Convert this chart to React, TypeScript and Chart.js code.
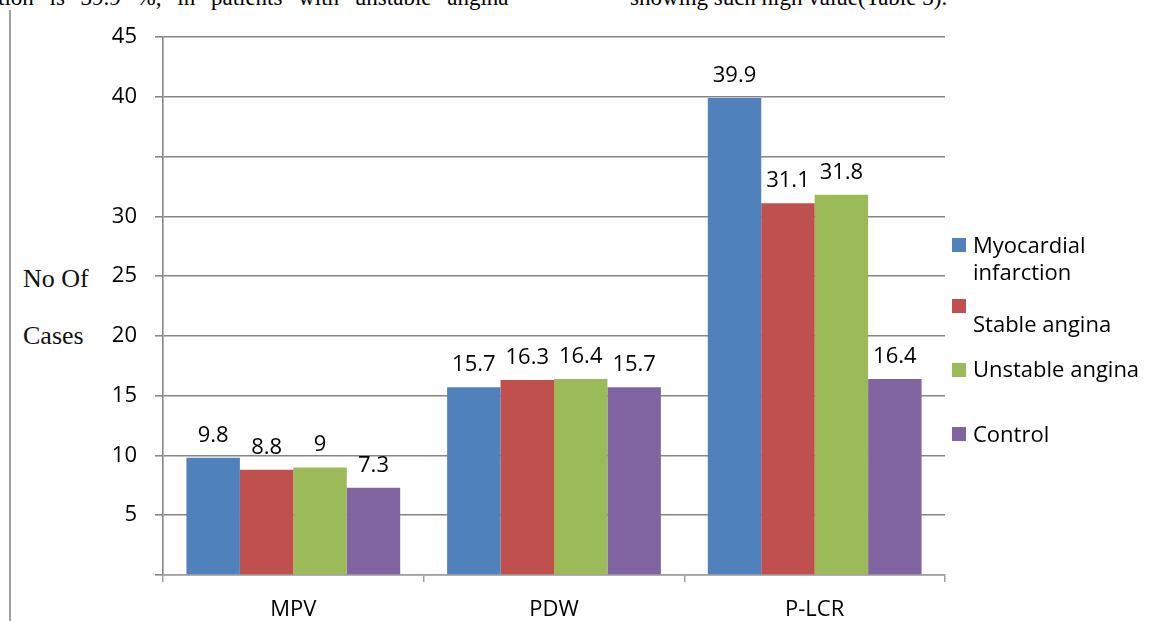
import React, { useEffect, useRef } from "react";
import { Chart, registerables } from "chart.js";

Chart.register(...registerables);

const categories = ["MPV", "PDW", "P-LCR"];
const seriesNames = ["Myocardial infarction", "Stable angina", "Unstable angina", "Control"];
const myocardialInfarction = [9.8, 15.7, 39.9];
const stableAngina = [8.8, 16.3, 31.1];
const unstableAngina = [9, 16.4, 31.8];
const control = [7.3, 15.7, 16.4];
const seriesColors = ["#4F81BD", "#C0504D", "#9BBB59", "#8064A2"];
const yMin = 0;
const yMax = 45;
const yStep = 5;
const hiddenTickLabels = [0, 35];
const legendLines = [["Myocardial", "infarction"], ["", "Stable angina"], ["Unstable angina"], ["Control"]];
const topTextLeft = "tion is 39.9 %, in patients with unstable angina";
const topTextRight = "showing such high value(Table 3).";
const axisTitleLines = ["No Of", "Cases"];

const FONT = "'Open Sans', sans-serif";

const legendPlugin = {
  id: "customLegend",
  afterDraw(chart: any) {
    const ctx = chart.ctx;
    const squareTops = [238, 299, 363, 427];
    const lineOffsets = [[15, 42], [15, 33], [14], [15]];
    ctx.save();
    ctx.font = `22px ${FONT}`;
    ctx.textBaseline = "alphabetic";
    ctx.textAlign = "left";
    chart.data.datasets.forEach((ds: any, i: number) => {
      const top = squareTops[i];
      ctx.fillStyle = ds.backgroundColor;
      ctx.fillRect(952, top, 14, 14);
      ctx.fillStyle = "#000";
      legendLines[i].forEach((line, j) => {
        if (line) ctx.fillText(line, 973, top + lineOffsets[i][j]);
      });
    });
    ctx.restore();
  },
};

const valueLabelPlugin = {
  id: "valueLabels",
  afterDatasetsDraw(chart: any) {
    const ctx = chart.ctx;
    ctx.save();
    ctx.font = `22px ${FONT}`;
    ctx.fillStyle = "#000";
    ctx.textAlign = "center";
    ctx.textBaseline = "alphabetic";
    chart.data.datasets.forEach((ds: any, i: number) => {
      const meta = chart.getDatasetMeta(i);
      meta.data.forEach((bar: any, j: number) => {
        ctx.fillText(String(ds.data[j]), bar.x, bar.y - 16);
      });
    });
    ctx.restore();
  },
};

export default function App() {
  const canvasRef = useRef<HTMLCanvasElement | null>(null);

  useEffect(() => {
    if (!canvasRef.current) return;
    const seriesValues = [myocardialInfarction, stableAngina, unstableAngina, control];
    const chart = new Chart(canvasRef.current, {
      type: "bar",
      data: {
        labels: categories,
        datasets: seriesNames.map((name, i) => ({
          label: name,
          data: seriesValues[i],
          backgroundColor: seriesColors[i],
          borderWidth: 0,
          categoryPercentage: 0.82,
          barPercentage: 1.0,
        })),
      },
      options: {
        animation: false,
        responsive: true,
        maintainAspectRatio: false,
        layout: { padding: { top: 37, right: 218, bottom: 0, left: 0 } },
        plugins: {
          legend: { display: false },
          tooltip: { enabled: false },
        },
        scales: {
          x: {
            offset: true,
            grid: {
              display: true,
              drawOnChartArea: false,
              drawTicks: true,
              tickLength: 7,
              offset: true,
              color: "#a0a0a0",
              lineWidth: 1.5,
            },
            border: { display: true, color: "#a0a0a0", width: 1.5 },
            ticks: {
              font: { family: FONT, size: 22 },
              color: "#000",
              padding: 15,
              maxRotation: 0,
            },
            afterFit(scale: any) {
              scale.height = 46;
            },
          },
          y: {
            min: yMin,
            max: yMax,
            grid: {
              color: "#868686",
              lineWidth: 1.6,
              tickLength: 8,
              drawTicks: true,
            },
            border: { display: true, color: "#868686", width: 1.6 },
            ticks: {
              stepSize: yStep,
              font: { family: FONT, size: 22 },
              color: "#000",
              padding: 18,
              callback: (v: any) => (hiddenTickLabels.includes(Number(v)) ? "" : String(v)),
            },
            afterFit(scale: any) {
              scale.width = 163;
            },
          },
        },
      },
      plugins: [valueLabelPlugin, legendPlugin],
    });
    return () => chart.destroy();
  }, []);

  const serif = "'Liberation Serif', 'Times New Roman', serif";

  return (
    <div style={{ position: "fixed", left: 0, top: 0, width: 1163, height: 621, background: "#fff", overflow: "hidden" }}>
      <div
        style={{
          position: "absolute",
          left: -2,
          top: -14,
          fontFamily: serif,
          fontSize: 23,
          lineHeight: "23px",
          wordSpacing: 10,
          whiteSpace: "nowrap",
          color: "#000",
        }}
      >
        {topTextLeft}
      </div>
      <div
        style={{
          position: "absolute",
          left: 630,
          top: -14,
          fontFamily: serif,
          fontSize: 23,
          lineHeight: "23px",
          whiteSpace: "nowrap",
          color: "#000",
        }}
      >
        {topTextRight}
      </div>
      <div style={{ position: "absolute", left: 9, top: 10, width: 2, height: 611, background: "#a0a0a0" }} />
      {axisTitleLines.map((t, i) => (
        <div
          key={t}
          style={{
            position: "absolute",
            left: 23,
            top: 266 + i * 57,
            fontFamily: serif,
            fontSize: 26,
            lineHeight: "26px",
            whiteSpace: "nowrap",
            color: "#111",
          }}
        >
          {t}
        </div>
      ))}
      <canvas ref={canvasRef} style={{ position: "absolute", left: 0, top: 0, width: 1163, height: 621 }} />
    </div>
  );
}
